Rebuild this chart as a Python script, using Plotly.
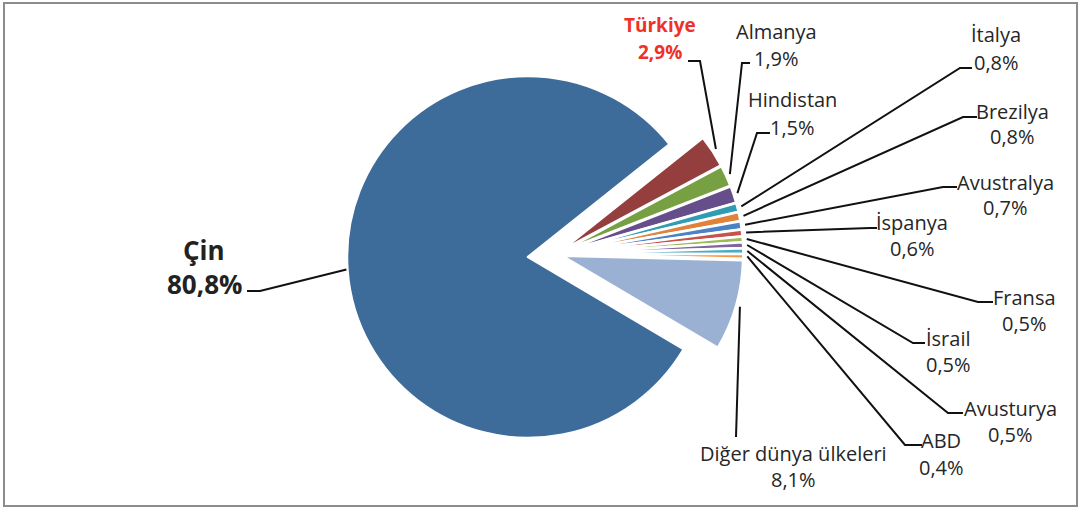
import math
import plotly.graph_objects as go

# ---------------- data ----------------
countries = ["Çin", "Türkiye", "Almanya", "Hindistan", "İtalya", "Brezilya",
             "Avustralya", "İspanya", "Fransa", "İsrail", "Avusturya", "ABD",
             "Diğer dünya ülkeleri"]
shares = [80.8, 2.9, 1.9, 1.5, 0.8, 0.8, 0.7, 0.6, 0.5, 0.5, 0.5, 0.4, 8.1]
colors = ["#3D6B9A", "#943F3D", "#77A043", "#654E8A", "#2F9CB3", "#E0823A",
          "#4A82C6", "#C8504D", "#9BBB59", "#8064A2", "#4BACC6", "#F79646",
          "#9AB1D3"]

# ---------------- layout constants ----------------
W, H = 1081, 508
CX, CY, R = 528, 257, 181          # main pie centre / radius (px)
SHIFT_X, SHIFT_Y = 28, -3          # exploded group offset (px)
PULL = 0.035                       # extra explosion of each small slice
ROTATION = 120.6                   # start angle of first slice (deg, clockwise from 12)
FONT = "Open Sans"

# label placement: (centre x, y of name line, y of value line)
label_pos = [
    (204, 250, 284),
    (660, 25, 52),
    (776, 31, 58),
    (792, 100, 127),
    (996, 35, 62),
    (1012, 111, 137),
    (1005, 182, 208),
    (912, 222, 248),
    (1024, 297, 323),
    (948, 338, 364),
    (1010, 408, 434),
    (941, 440, 467),
    (793, 453, 479),
]
# leader line: start point at label (x, y) and elbow x
leader = [
    (247, 291, 260),
    (688, 61, 700),
    (750, 63, 742),
    (770, 133, 757),
    (972, 68, 960),
    (977, 117, 963),
    (957, 187, 943),
    (877, 228, 870),
    (993, 302, 978),
    (925, 343, 913),
    (963, 413, 948),
    (922, 445, 905),
    (736, 437, 736),
]


def px(x):
    return x / W


def py(y):
    return 1 - y / H


def fmt(v):
    return f"{v:.1f}".replace(".", ",") + "%"


total = sum(shares)
transparent = "rgba(0,0,0,0)"
n = len(shares)

main_colors = [colors[0]] + [transparent] * (n - 1)
main_lw = [2.5] + [0] * (n - 1)
grp_colors = [transparent] + colors[1:]
grp_lw = [0] + [2.5] * (n - 1)
grp_pull = [0] + [PULL] * (n - 1)


def domain(cx, cy, half):
    return dict(x=[px(cx - half), px(cx + half)], y=[py(cy + half), py(cy - half)])


GX, GY = CX + SHIFT_X, CY + SHIFT_Y

fig = go.Figure()
fig.add_trace(go.Pie(
    labels=countries, values=shares, sort=False, direction="clockwise",
    rotation=ROTATION, textinfo="none", hoverinfo="label+percent",
    marker=dict(colors=main_colors, line=dict(color="white", width=main_lw)),
    domain=domain(CX, CY, R), showlegend=False,
))
fig.add_trace(go.Pie(
    labels=countries, values=shares, sort=False, direction="clockwise",
    rotation=ROTATION, textinfo="none", hoverinfo="label+percent", pull=grp_pull,
    marker=dict(colors=grp_colors, line=dict(color="white", width=grp_lw)),
    domain=domain(GX, GY, R * (1 + PULL)), showlegend=False,
))

# slice mid-angles -> leader line end points
shapes = []
annotations = []
cum = ROTATION
for i, (name, v) in enumerate(zip(countries, shares)):
    ang = v / total * 360
    mid = math.radians(cum + ang / 2)
    cum += ang
    if i == 0:
        cx, cy, rr = CX, CY, R + 1
    else:
        cx, cy, rr = GX, GY, R * (1 + PULL) + 4
    ex = cx + rr * math.sin(mid)
    ey = cy - rr * math.cos(mid)
    sx, sy, elx = leader[i]
    path = f"M {px(sx)},{py(sy)} L {px(elx)},{py(sy)} L {px(ex)},{py(ey)}"
    shapes.append(dict(type="path", xref="paper", yref="paper", path=path,
                       line=dict(color="#111111", width=2), layer="above"))

    lx, ly1, ly2 = label_pos[i]
    if i == 0:
        f = dict(family=FONT, size=26, color="#222222")
        t1, t2 = f"<b>{name}</b>", f"<b>{fmt(v)}</b>"
    elif name == "Türkiye":
        f = dict(family=FONT, size=19, color="#EE3129")
        t1, t2 = f"<b>{name}</b>", f"<b>{fmt(v)}</b>"
    else:
        f = dict(family=FONT, size=20, color="#262626")
        t1, t2 = name, fmt(v)
    for t, yy in ((t1, ly1), (t2, ly2)):
        annotations.append(dict(text=t, x=px(lx), y=py(yy), xref="paper", yref="paper",
                                xanchor="center", yanchor="middle", showarrow=False,
                                font=f))

# outer frame
shapes.append(dict(type="rect", xref="paper", yref="paper",
                   x0=px(4), x1=px(1077), y0=py(506), y1=py(3),
                   line=dict(color="#8C8C8C", width=2), layer="below"))

fig.update_layout(
    width=W, height=H, margin=dict(l=0, r=0, t=0, b=0),
    paper_bgcolor="white", plot_bgcolor="white",
    shapes=shapes, annotations=annotations,
)

fig.write_html("out.html", config={"displayModeBar": False},
               post_script="document.body.style.margin='0';document.body.style.overflow='hidden';")
